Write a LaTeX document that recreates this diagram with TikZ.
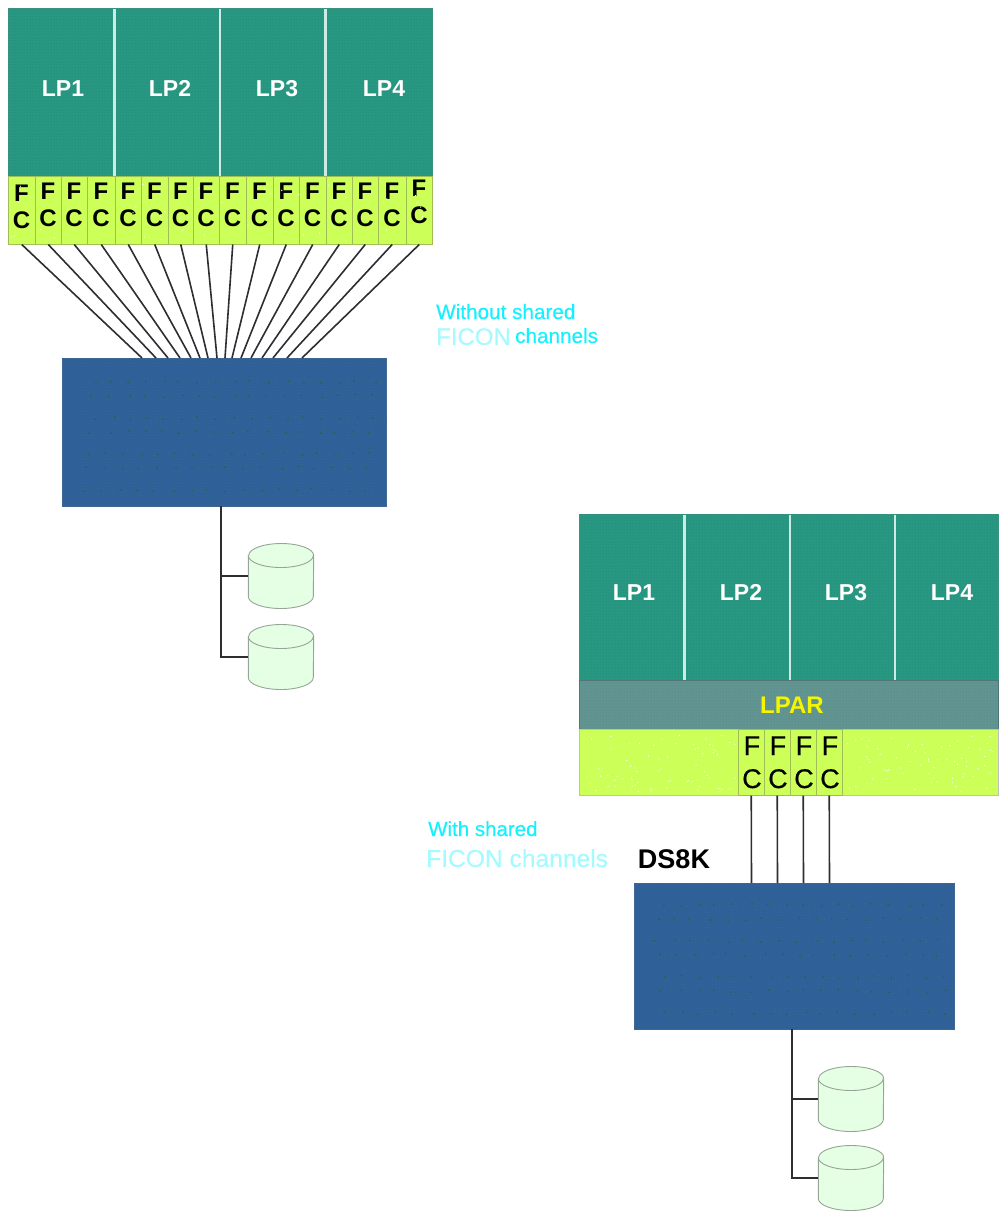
\documentclass[tikz,border=0pt]{standalone}
\usepackage{fontspec}
\setmainfont{Liberation Sans}
\newfontfamily\chanfont[FakeBold=0.4]{Liberation Sans}
\usetikzlibrary{patterns}
\definecolor{tealc}{RGB}{41,152,130}
\definecolor{tealdot}{RGB}{28,130,112}
\definecolor{limec}{RGB}{204,255,88}
\definecolor{bluec}{RGB}{48,98,153}
\definecolor{bluedot}{RGB}{42,92,145}
\definecolor{greenspot}{RGB}{30,105,80}
\definecolor{greenfaint}{RGB}{48,108,130}
\definecolor{lparc}{RGB}{98,148,146}
\definecolor{lpardot}{RGB}{82,134,132}
\definecolor{drumc}{RGB}{228,255,228}
\definecolor{drumedge}{RGB}{150,165,150}
\definecolor{cellline}{RGB}{160,190,85}
\definecolor{divc}{RGB}{205,235,228}
\definecolor{cyanA}{RGB}{20,240,255}
\definecolor{cyanB}{RGB}{165,250,255}
\definecolor{yellowc}{RGB}{245,245,0}
\definecolor{wirec}{RGB}{45,45,50}
\newcommand{\pxfont}[1]{\fontsize{#1}{#1}\selectfont}
\tikzset{
  x=1pt,y=-1pt,
  lpanel/.style={draw=tealc!80!gray,line width=0.6pt,fill=tealc,anchor=north west,inner sep=0pt,
     postaction={pattern=dots,pattern color=tealdot}},
  lptext/.style={text=white,anchor=base,font=\bfseries\pxfont{23}},
  lpdiv/.style={draw=divc,line width=2.2pt},
  lparbar/.style={fill=lparc,draw=lparc!80!black,line width=0.5pt,anchor=north west,inner sep=0pt,
     postaction={pattern=dots,pattern color=lpardot}},
  limebar/.style={fill=limec,draw=lightgray,line width=0.6pt,anchor=north west,inner sep=0pt},
  fccell/.style={fill=limec,draw=cellline,line width=0.5pt,anchor=north west,inner sep=0pt},
  fcleft/.style={text=black,anchor=base,font=\bfseries\pxfont{24},inner sep=0pt},
  fcright/.style={text=black,anchor=base,font=\chanfont\pxfont{27},inner sep=0pt},
  switchbox/.style={fill=bluec,draw=bluec!80!gray,line width=0.5pt,anchor=north west,inner sep=0pt,
     postaction={pattern=dots,pattern color=bluedot}},
  wire/.style={draw=wirec,line width=1.6pt},
  drumanchor/.style={minimum width=65pt,minimum height=65pt,inner sep=0pt},
  drumbody/.style={draw=drumedge,line width=0.9pt,fill=drumc},
  chantext/.style={text=cyanA,anchor=base west,inner sep=0pt},
  chanlight/.style={text=cyanB,anchor=base west,inner sep=0pt},
}
% strong and faint spots in rows: x0, x1, list of y rows
\newcommand{\spotrows}[3]{%
  \foreach \yy in {#3}{%
    \pgfmathsetmacro{\xs}{#1+rnd*10}
    \foreach \kk in {0,...,16}{%
      \pgfmathsetmacro{\xx}{\xs+\kk*((#2-#1)/16)+rnd*6-3}
      \pgfmathsetmacro{\jj}{\yy+rnd*3-1.5}
      \fill[greenspot] (\xx,\jj) circle (1.1pt);
      \pgfmathsetmacro{\xx}{\xs+(\kk+0.5)*((#2-#1)/16)+rnd*6-3}
      \pgfmathsetmacro{\jj}{\yy+rnd*3-1.5}
      \fill[greenfaint] (\xx,\jj) circle (1pt);
    }%
  }%
}
\newcommand{\limespots}[5]{%
  \foreach \kk in {1,...,#5}{%
    \pgfmathsetmacro{\xx}{#1+rnd*(#3-#1)}
    \pgfmathsetmacro{\jj}{#2+rnd*(#4-#2)}
    \fill[white!85!limec] (\xx,\jj) circle (0.7pt);
  }%
}
% name, centre x, centre y
\newcommand{\drumat}[3]{%
  \node[drumanchor] (#1) at (#2,#3) {};
  \path[drumbody] (#1.west |- 0,#3-20.5) -- (#1.west |- 0,#3+20.5)
     arc[start angle=180,end angle=360,x radius=32.5pt,y radius=12pt]
     -- (#1.east |- 0,#3-20.5)
     arc[start angle=0,end angle=180,x radius=32.5pt,y radius=12pt] -- cycle;
  \draw[drumedge,line width=0.9pt] (#1.west |- 0,#3-20.5)
     arc[start angle=180,end angle=360,x radius=32.5pt,y radius=12pt];
}
\begin{document}
\begin{tikzpicture}
\useasboundingbox (0,0) rectangle (999,1211);
\pgfmathsetseed{4711}
% ---- upper system
\node[lpanel,minimum width=424pt,minimum height=168pt] (panelA) at (8,8) {};
\draw[lpdiv] (114.5,9) -- (114.5,176);
\draw[lpdiv] (220,9) -- (220,176);
\draw[lpdiv] (325.5,9) -- (325.5,176);
\node[lptext] (aLP1) at (63,96) {LP1};
\node[lptext] (aLP2) at (170,96) {LP2};
\node[lptext] (aLP3) at (277,96) {LP3};
\node[lptext] (aLP4) at (384,96) {LP4};
% FC cells
\foreach \i/\xa/\xb/\dy in {1/8/35/2.5,2/35/61/0,3/61/87/0,4/87/115/0,5/115/141/0,6/141/168/0,7/168/193/0,8/193/219/0,
   9/219/246/0,10/246/273/0,11/273/299/0,12/299/326/0,13/326/352/0,14/352/378/0,15/378/406/0,16/406/432/-3}{
  \pgfmathsetmacro{\cw}{\xb-\xa}
  \node[fccell,minimum width=\cw pt,minimum height=68pt] (c\i) at (\xa,176) {};
  \pgfmathsetmacro{\mx}{(\xa+\xb)/2}
  \pgfmathsetmacro{\fy}{199+\dy}
  \pgfmathsetmacro{\cy}{226+\dy}
  \node[fcleft] (cF\i) at (\mx,\fy) {F};
  \node[fcleft] (cC\i) at (\mx,\cy) {C};
}
\limespots{10}{180}{430}{242}{40}
% switch A
\node[switchbox,minimum width=324pt,minimum height=148pt] (swA) at (62,358) {};
\spotrows{85}{365}{382,396,418,432,454,468,490}
% wires to switch
\foreach \i/\x in {1/142,2/156,3/168,4/180,5/191,6/200,7/208,8/217,9/225,10/232,11/241,12/251,13/262,14/273,15/287,16/302}{
  \coordinate (b\i) at (\x,358);
  \draw[wire] (c\i.south) -- (b\i);
}
% disks A
\drumat{dA1}{281}{576}
\drumat{dA2}{281}{657}
\coordinate (tA) at (221,506);
\draw[wire] (tA) |- (dA1.west);
\draw[wire] (tA) |- (dA2.west);
% labels A
\node[chantext,font=\chanfont\pxfont{20.7}] (tWithout) at (436,319) {Without shared};
\node[chanlight,font=\chanfont\pxfont{24}] (tFiconA) at (436,345) {FICON};
\node[chantext,font=\chanfont\pxfont{20.7}] (tChanA) at (515,343) {channels};
% ---- lower system
\node[lpanel,minimum width=419pt,minimum height=166pt] (panelB) at (579,514) {};
\draw[lpdiv] (684.5,515) -- (684.5,680);
\draw[lpdiv] (790,515) -- (790,680);
\draw[lpdiv] (895,515) -- (895,680);
\node[lptext] (bLP1) at (634,600) {LP1};
\node[lptext] (bLP2) at (741,600) {LP2};
\node[lptext] (bLP3) at (846,600) {LP3};
\node[lptext] (bLP4) at (952,600) {LP4};
\node[lparbar,minimum width=419pt,minimum height=49pt] (lpar) at (579,680) {};
\node[text=yellowc,font=\bfseries\pxfont{24}] (lparT) at (792,705) {LPAR};
\node[limebar,minimum width=419pt,minimum height=66pt] (limeB) at (579,729) {};
\limespots{590}{735}{736}{792}{70}
\limespots{845}{735}{995}{792}{70}
\foreach \i/\xa/\xb in {1/738/764,2/764/790,3/790/816,4/816/842}{
  \pgfmathsetmacro{\cw}{\xb-\xa}
  \node[fccell,minimum width=\cw pt,minimum height=66pt] (e\i) at (\xa,729) {};
  \pgfmathsetmacro{\mx}{(\xa+\xb)/2+1}
  \node[fcright] (eF\i) at (\mx,755) {F};
  \node[fcright] (eC\i) at (\mx,788) {C};
}
\node[switchbox,minimum width=320pt,minimum height=146pt] (swB) at (634,883) {};
\spotrows{655}{935}{905,919,941,955,977,991,1013}
\foreach \i/\x in {1/751.5,2/777.5,3/803.5,4/829.5}{
  \coordinate (f\i) at (\x,883);
  \draw[wire] (e\i.south) -- (f\i);
}
\drumat{dB1}{851}{1099}
\drumat{dB2}{851}{1178}
\coordinate (tB) at (792,1029);
\draw[wire] (tB) |- (dB1.west);
\draw[wire] (tB) |- (dB2.west);
\node[chantext,font=\chanfont\pxfont{20.5}] (tWith) at (428,836) {With shared};
\node[chanlight,font=\chanfont\pxfont{24.6}] (tFiconB) at (426,867) {FICON channels};
\node[text=black,font=\bfseries\pxfont{27}] (ds) at (674,859) {DS8K};
\end{tikzpicture}
\end{document}
